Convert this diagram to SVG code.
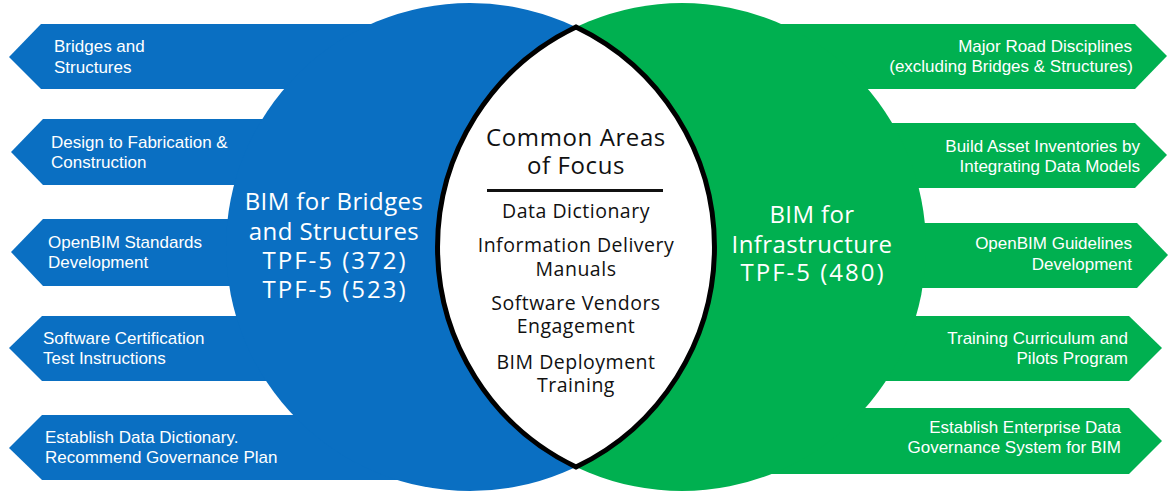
<svg xmlns="http://www.w3.org/2000/svg" width="1168" height="495" viewBox="0 0 1168 495">
  <style>
    .blue { fill: #0A6FC2; }
    .green { fill: #00B050; }
    .item { font-family: "Liberation Sans", Arial, sans-serif; font-size: 17px; fill: #FFFFFF; }
    .item-r { font-family: "Liberation Sans", Arial, sans-serif; font-size: 17px; fill: #FFFFFF; text-anchor: end; }
    .big { font-family: "Open Sans", "DejaVu Sans", sans-serif; font-size: 24px; fill: #FFFFFF; text-anchor: middle; letter-spacing: 0.4px; }
    .code { letter-spacing: 2px; }
    .head { font-family: "Open Sans", "DejaVu Sans", sans-serif; font-size: 24px; fill: #111111; text-anchor: middle; letter-spacing: 0.6px; }
    .focus { font-family: "Open Sans", "DejaVu Sans", sans-serif; font-size: 19.5px; fill: #111111; text-anchor: middle; letter-spacing: 0.5px; }
  </style>

  <!-- Left circle: BIM for Bridges and Structures, with its five pointers -->
  <g id="bridges-structures">
    <polygon class="blue" points="9,57 41,24 450,24 450,89 41,89"/>
    <polygon class="blue" points="11,152 43,119 450,119 450,185 43,185"/>
    <polygon class="blue" points="11,252 43,219 450,219 450,286 43,286"/>
    <polygon class="blue" points="9,348 42,316 450,316 450,381 42,381"/>
    <polygon class="blue" points="9,448 42,415 450,415 450,480 42,480"/>
    <circle class="blue" cx="470" cy="247" r="244"/>
    <text class="big" x="334" y="210">BIM for Bridges</text>
    <text class="big" x="334" y="240">and Structures</text>
    <text class="big code" x="335" y="269">TPF-5 (372)</text>
    <text class="big code" x="335" y="298">TPF-5 (523)</text>
  </g>

  <g id="b1"><text class="item" x="54" y="52">Bridges and</text><text class="item" x="54" y="73">Structures</text></g>
  <g id="b2"><text class="item" x="51" y="148">Design to Fabrication &amp;</text><text class="item" x="51" y="168">Construction</text></g>
  <g id="b3"><text class="item" x="48" y="248">OpenBIM Standards</text><text class="item" x="48" y="268">Development</text></g>
  <g id="b4"><text class="item" x="43" y="344">Software Certification</text><text class="item" x="43" y="364">Test Instructions</text></g>
  <g id="b5"><text class="item" x="45" y="443">Establish Data Dictionary.</text><text class="item" x="45" y="463">Recommend Governance Plan</text></g>

  <!-- Right circle: BIM for Infrastructure, with its five pointers -->
  <g id="infrastructure">
    <polygon class="green" points="1167,56 1135,24 700,24 700,89 1135,89"/>
    <polygon class="green" points="1167,155 1135,123 700,123 700,188 1135,188"/>
    <polygon class="green" points="1168,255 1137,223 700,223 700,288 1137,288"/>
    <polygon class="green" points="1162,348 1129,316 700,316 700,381 1129,381"/>
    <polygon class="green" points="1162,441 1129,408 700,408 700,474 1129,474"/>
    <circle class="green" cx="682" cy="247" r="244"/>
    <text class="big" x="812" y="223">BIM for</text>
    <text class="big" x="812" y="253">Infrastructure</text>
    <text class="big code" x="813" y="281">TPF-5 (480)</text>
  </g>

  <g id="g1"><text class="item-r" x="1132" y="52">Major Road Disciplines</text><text class="item-r" x="1133" y="72">(excluding Bridges &amp; Structures)</text></g>
  <g id="g2"><text class="item-r" x="1140" y="152">Build Asset Inventories by</text><text class="item-r" x="1140" y="172">Integrating Data Models</text></g>
  <g id="g3"><text class="item-r" x="1132" y="249">OpenBIM Guidelines</text><text class="item-r" x="1132" y="270">Development</text></g>
  <g id="g4"><text class="item-r" x="1128" y="344">Training Curriculum and</text><text class="item-r" x="1128" y="364">Pilots Program</text></g>
  <g id="g5"><text class="item-r" x="1121" y="433">Establish Enterprise Data</text><text class="item-r" x="1121" y="453">Governance System for BIM</text></g>

  <!-- Overlap lens: common areas of focus -->
  <g id="common-areas">
    <path d="M576,27 A244,244 0 0 0 576,467 A244,244 0 0 0 576,27 Z" fill="#FFFFFF" stroke="#000000" stroke-width="5" stroke-linejoin="miter"/>
    <text class="head" x="576" y="146">Common Areas</text>
    <text class="head" x="576" y="174">of Focus</text>
    <line x1="487" y1="190.5" x2="663" y2="190.5" stroke="#111111" stroke-width="3"/>
    <text class="focus" x="576" y="218">Data Dictionary</text>
    <text class="focus" x="576" y="252">Information Delivery</text>
    <text class="focus" x="576" y="276">Manuals</text>
    <text class="focus" x="576" y="310">Software Vendors</text>
    <text class="focus" x="576" y="333">Engagement</text>
    <text class="focus" x="576" y="369">BIM Deployment</text>
    <text class="focus" x="576" y="392">Training</text>
  </g>
</svg>
